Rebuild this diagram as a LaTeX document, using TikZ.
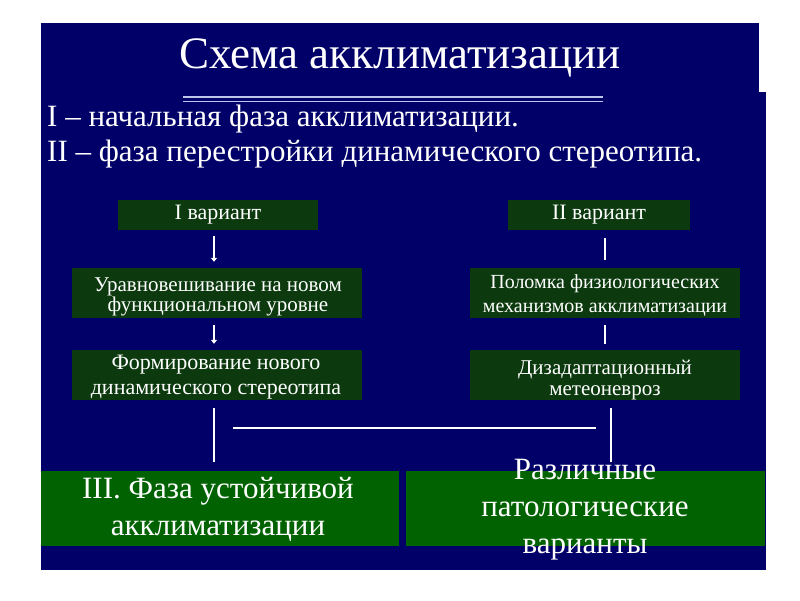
\documentclass[tikz,border=0pt]{standalone}
\usepackage{fontspec}
\setmainfont{Liberation Serif}
\usetikzlibrary{arrows.meta}
\definecolor{navy}{RGB}{0,0,104}
\definecolor{dgreen}{RGB}{12,58,14}
\definecolor{bgreen}{RGB}{0,98,0}
\definecolor{lav}{RGB}{190,196,235}
\tikzset{
  smallbox/.style={fill=dgreen, inner sep=0pt},
  boxtext/.style={text=white, align=center, inner sep=0pt},
  bigbox/.style={fill=bgreen, inner sep=0pt, minimum width=358pt, minimum height=75pt},
  bigtext/.style={text=white, align=center, inner sep=0pt, font=\fontsize{31}{37}\selectfont},
  link/.style={draw=white, line width=2pt},
  arr/.style={link, -{Triangle[width=6pt,length=4pt]}}
}
\begin{document}
\begin{tikzpicture}[x=1pt,y=-1pt]
\useasboundingbox (0,0) rectangle (800,600);
% background
\fill[navy] (41,23) rectangle (759,93);
\fill[navy] (41,92) rectangle (766,570);
% title
\node[text=white, font=\fontsize{45}{46}\selectfont] (title) at (400,58) {Схема акклиматизации};
\draw[lav, line width=1.6pt] (183,97) -- (603,97);
\draw[lav, line width=1.6pt] (183,101.5) -- (603,101.5);
% phases
\node[text=white, anchor=west, inner sep=0pt, font=\fontsize{31}{33}\selectfont] (p1) at (47,119) {I – начальная фаза акклиматизации.};
\node[text=white, anchor=west, inner sep=0pt, font=\fontsize{31}{33}\selectfont] (p2) at (47,154) {II – фаза перестройки динамического стереотипа.};
% boxes
\node[smallbox, minimum width=200pt, minimum height=30pt] (v1) at (218,215) {};
\node[boxtext, font=\fontsize{22}{24}\selectfont] (v1t) at (v1) {I вариант};
\node[smallbox, minimum width=182pt, minimum height=30pt] (v2) at (599,215) {};
\node[boxtext, font=\fontsize{22}{24}\selectfont] (v2t) at (v2) {II вариант};
\node[smallbox, minimum width=290pt, minimum height=50pt] (u) at (217,293) {};
\node[boxtext, font=\fontsize{21}{20}\selectfont] (ut) at (218,297) {Уравновешивание на новом\\функциональном уровне};
\node[smallbox, minimum width=270pt, minimum height=50pt] (p) at (605,293) {};
\node[boxtext, font=\fontsize{20}{24}\selectfont] (pt) at (605,295) {Поломка физиологических\\механизмов акклиматизации};
\node[smallbox, minimum width=290pt, minimum height=50pt] (f) at (217,375) {};
\node[boxtext, font=\fontsize{22}{25}\selectfont] (ft) at (216,377) {Формирование нового\\динамического стереотипа};
\node[smallbox, minimum width=270pt, minimum height=50pt] (d) at (605,375) {};
\node[boxtext, font=\fontsize{21}{20.5}\selectfont] (dt) at (605,380) {Дизадаптационный\\метеоневроз};
\node[bigbox] (s3) at (220,508) {};
\node[bigtext] (s3t) at (218,509) {III. Фаза устойчивой\\акклиматизации};
\node[bigbox, minimum width=359pt] (pv) at (585.5,508) {};
\node[bigtext] (pvt) at (585,510) {Различные\\патологические\\варианты};
% connectors
\draw[arr, shorten <=6pt, shorten >=6pt] (v1.south -| 214,0) -- (u.north -| 214,0);
\draw[arr, shorten <=7pt, shorten >=6pt] (u.south -| 214,0) -- (f.north -| 214,0);
\draw[link, shorten <=8pt, shorten >=8pt] (v2.south -| p) -- (p.north);
\draw[link, shorten <=7pt, shorten >=6pt] (p.south) -- (d.north);
\draw[link, shorten <=8pt, shorten >=8pt] (f.south -| 214,0) -- (s3.north -| 214,0);
\draw[link, shorten <=8pt, shorten >=8pt] (d.south -| 611,0) -- (pv.north -| 611,0);
\coordinate (hl) at (233,428);
\coordinate (hr) at (596,428);
\draw[link] (hl) -- (hr);
\end{tikzpicture}
\end{document}
